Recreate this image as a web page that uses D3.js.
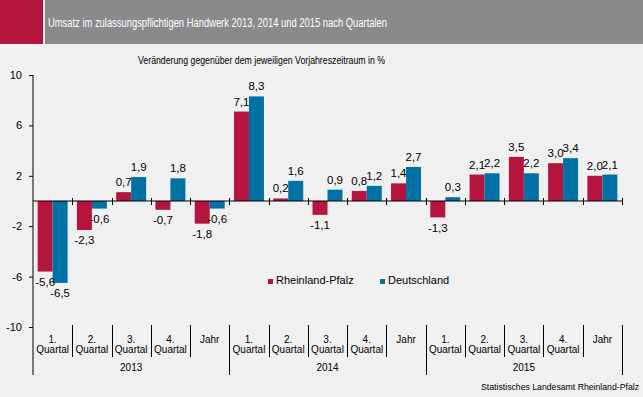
<!DOCTYPE html>
<html>
<head>
<meta charset="utf-8">
<script src="https://cdn.jsdelivr.net/npm/d3@7"></script>
<style>
  html, body { margin: 0; padding: 0; background: #eff0ef; }
  svg { display: block; font-family: "Liberation Sans", Arial, sans-serif; }
</style>
</head>
<body>
<div id="chart"></div>
<script>
const years = ["2013", "2014", "2015"];
const periods = ["1.", "2.", "3.", "4.", "Jahr"];
const seriesNames = ["Rheinland-Pfalz", "Deutschland"];
const rheinlandPfalz = [-5.6, -2.3, 0.7, -0.7, -1.8, 7.1, 0.2, -1.1, 0.8, 1.4, -1.3, 2.1, 3.5, 3.0, 2.0];
const deutschland = [-6.5, -0.6, 1.9, 1.8, -0.6, 8.3, 1.6, 0.9, 1.2, 2.7, 0.3, 2.2, 2.2, 3.4, 2.1];
const yTicks = [10, 6, 2, -2, -6, -10];

const width = 643,
  height = 397;
const colors = ["#b5143f", "#0071a3"];
const title = "Umsatz im zulassungspflichtigen Handwerk 2013, 2014 und 2015 nach Quartalen";
const subtitle = "Veränderung gegenüber dem jeweiligen Vorjahreszeitraum in %";
const source = "Statistisches Landesamt Rheinland-Pfalz";

const cats = years.flatMap((y) => periods.map((p) => ({ year: y, period: p })));
const rows = cats.map((c, i) => ({ ...c, values: [rheinlandPfalz[i], deutschland[i]] }));

const x = d3.scaleBand().domain(d3.range(cats.length)).range([33, 622]);
const xInner = d3
  .scaleBand()
  .domain([0, 1])
  .range([0, x.bandwidth()])
  .paddingOuter(0.31);
const y = d3.scaleLinear().domain([-10, 10]).range([327, 75]);
const fmt = (v) => v.toFixed(1).replace(".", ",");

const svg = d3
  .select("#chart")
  .append("svg")
  .attr("width", width)
  .attr("height", height)
  .attr("viewBox", [0, 0, width, height]);

svg.append("rect").attr("width", width).attr("height", height).attr("fill", "#eff0ef");

// header
svg.append("rect").attr("x", 0).attr("y", 0).attr("width", 43).attr("height", 44).attr("fill", "#b5143f");
svg.append("rect").attr("x", 45).attr("y", 0).attr("width", width - 45).attr("height", 44).attr("fill", "#8a8a8c");
svg
  .append("text")
  .attr("x", 48)
  .attr("y", 27)
  .attr("fill", "#fff")
  .attr("font-size", 12.5)
  .attr("textLength", 339)
  .attr("lengthAdjust", "spacingAndGlyphs")
  .text(title);

svg
  .append("text")
  .attr("x", 138)
  .attr("y", 64)
  .attr("fill", "#000")
  .attr("font-size", 11)
  .attr("textLength", 247)
  .attr("lengthAdjust", "spacingAndGlyphs")
  .text(subtitle);

// y axis
const yAxis = svg
  .append("g")
  .attr("transform", "translate(33,0)")
  .call(d3.axisLeft(y).tickValues(yTicks).tickSize(4).tickFormat((d) => d));
yAxis.select(".domain").remove();
yAxis.selectAll("line").attr("stroke", "#000");
yAxis
  .selectAll("text")
  .attr("x", -11)
  .attr("font-size", 11)
  .attr("font-family", "Liberation Sans, Arial, sans-serif")
  .attr("fill", "#000");
svg.append("line").attr("x1", 33).attr("x2", 33).attr("y1", 75).attr("y2", 375).attr("stroke", "#000");

// bars
const groups = svg
  .append("g")
  .selectAll("g")
  .data(rows)
  .join("g")
  .attr("transform", (d, i) => `translate(${x(i)},0)`);

groups
  .selectAll("rect")
  .data((d) => d.values)
  .join("rect")
  .attr("x", (d, j) => xInner(j))
  .attr("width", xInner.bandwidth())
  .attr("y", (d) => y(Math.max(0, d)))
  .attr("height", (d) => Math.abs(y(d) - y(0)))
  .attr("fill", (d, j) => colors[j]);

groups
  .selectAll("text")
  .data((d) => d.values)
  .join("text")
  .attr("x", (d, j) => xInner(j) + xInner.bandwidth() / 2)
  .attr("y", (d) => (d >= 0 ? y(d) - 6 : y(d) + 14.5))
  .attr("text-anchor", "middle")
  .attr("font-size", 11.5)
  .attr("fill", "#000")
  .text(fmt);

// zero line with cross ticks
svg.append("line").attr("x1", 33).attr("x2", 622).attr("y1", y(0)).attr("y2", y(0)).attr("stroke", "#000");
svg
  .append("g")
  .selectAll("line")
  .data(d3.range(1, cats.length + 1))
  .join("line")
  .attr("x1", (k) => Math.round(x(0) + k * x.step()) + 0.5)
  .attr("x2", (k) => Math.round(x(0) + k * x.step()) + 0.5)
  .attr("y1", y(0) - 3)
  .attr("y2", y(0) + 4)
  .attr("stroke", "#000");

// category axis
const sep = svg.append("g");
sep
  .selectAll("line")
  .data(d3.range(1, cats.length + 1))
  .join("line")
  .attr("x1", (k) => Math.round(x(0) + k * x.step()) + 0.5)
  .attr("x2", (k) => Math.round(x(0) + k * x.step()) + 0.5)
  .attr("y1", 325)
  .attr("y2", (k) => (k % periods.length === 0 ? 375 : 357))
  .attr("stroke", "#000");

const catLabels = svg
  .append("g")
  .selectAll("text")
  .data(cats)
  .join("text")
  .attr("text-anchor", "middle")
  .attr("font-size", 10)
  .attr("fill", "#000")
  .attr("transform", (d, i) => `translate(${x(i) + x.bandwidth() / 2},0)`);
catLabels.append("tspan").attr("x", 0).attr("y", 343).text((d) => d.period);
catLabels
  .filter((d) => d.period !== "Jahr")
  .append("tspan")
  .attr("x", 0)
  .attr("y", 353)
  .text("Quartal");

svg
  .append("g")
  .selectAll("text")
  .data(years)
  .join("text")
  .attr("x", (d, i) => x(i * periods.length) + (x.step() * periods.length) / 2)
  .attr("y", 371)
  .attr("text-anchor", "middle")
  .attr("font-size", 10)
  .attr("fill", "#000")
  .text((d) => d);

// legend
const legendX = [268, 380];
const legend = svg
  .append("g")
  .selectAll("g")
  .data(seriesNames)
  .join("g")
  .attr("transform", (d, i) => `translate(${legendX[i]},279)`);
legend.append("rect").attr("width", 5).attr("height", 5).attr("fill", (d, i) => colors[i]);
legend
  .append("text")
  .attr("x", 8)
  .attr("y", 5)
  .attr("font-size", 11)
  .attr("fill", "#000")
  .text((d) => d);

svg
  .append("text")
  .attr("x", 639)
  .attr("y", 390)
  .attr("text-anchor", "end")
  .attr("font-size", 8.7)
  .attr("fill", "#000")
  .text(source);
</script>
</body>
</html>
